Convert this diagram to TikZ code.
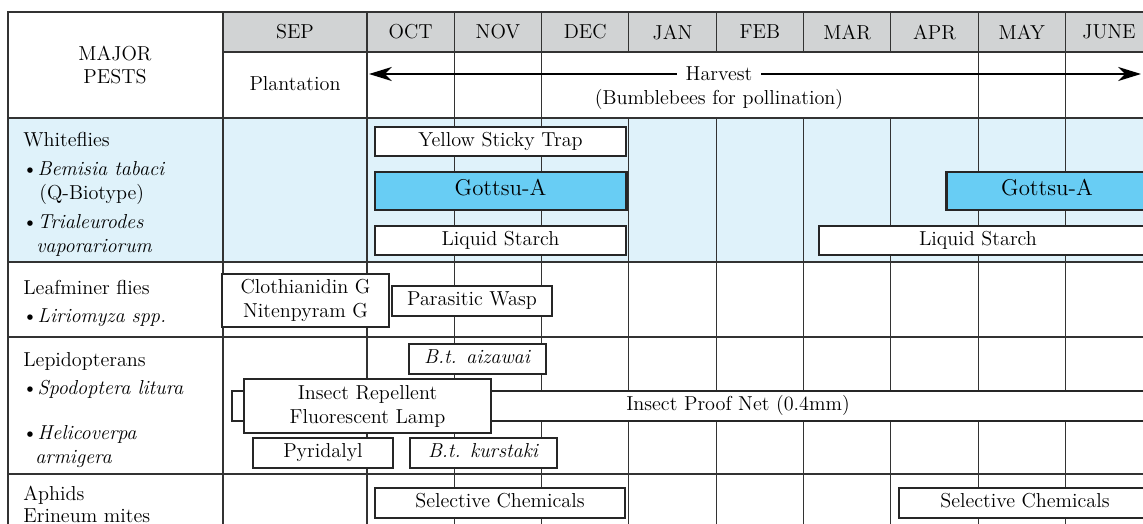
\documentclass[tikz,border=0pt]{standalone}
\usepackage{xcolor}
\usepackage{tikz}
\usetikzlibrary{arrows.meta}

\definecolor{headgrey}{RGB}{209,211,212}
\definecolor{flyblue}{RGB}{223,242,250}
\definecolor{gottsublue}{RGB}{104,205,244}
\newcommand{\chartfont}{\fontsize{11.5}{13.6}\selectfont}
\newcommand{\gottsufont}{\fontsize{13}{15}\selectfont}

\tikzset{
	gridline/.style={draw=black!80, line width=0.6pt},
	ctrlbox/.style={fill=white, draw=black!85, line width=0.6pt},
	gottsubox/.style={fill=gottsublue, draw=black!85, line width=1.7pt},
	boxlabel/.style={text height=1.6ex, text depth=0.35ex, inner sep=0pt},
	pestlabel/.style={anchor=base west, inner sep=0pt},
}

\begin{document}
\begin{tikzpicture}[x=0.02cm, y=-0.02cm, font=\chartfont]

	\useasboundingbox (0,0) rectangle (1143,524);
	\clip (0,0) rectangle (1143,524);

	% shaded rows
	\fill[headgrey] (223,12) rectangle (1160,52);
	\fill[flyblue] (8,118) rectangle (1160,262);

	% grid
	\draw[gridline] (8,560) -- (8,12) -- (1160,12);
	\draw[gridline] (223,52) -- (1160,52);
	\foreach \y in {118,262,337,474}
		\draw[gridline] (8,\y) -- (1160,\y);
	\foreach \x in {223,367}
		\draw[gridline] (\x,12) -- (\x,560);
	\foreach \i in {1,...,9}
		\draw[gridline] ({367+87.3*\i},12) -- ({367+87.3*\i},52);
	\foreach \i in {1,2,7,8,9}
		\draw[gridline] ({367+87.3*\i},52) -- ({367+87.3*\i},118);
	\foreach \i in {1,...,9}
		\draw[gridline] ({367+87.3*\i},118) -- ({367+87.3*\i},560);

	% header
	\node[align=center] (pests) at (115,65) {MAJOR\\PESTS};
	\node (sep) at (295,32) {SEP};
	\foreach \m [count=\i] in {OCT,NOV,DEC,JAN,FEB,MAR,APR,MAY,JUNE}
		\node (month\i) at ({367+87.3*(\i-0.5)},32) {\m};
	\node (plant) at (295,84) {Plantation};

	% harvest period
	\coordinate (hvL) at (369,74);
	\coordinate (hvR) at (1141,74);
	\draw[{Stealth[length=13pt, width=8pt, inset=4pt]}-{Stealth[length=13pt, width=8pt, inset=4pt]}, line width=1.1pt] (hvL) -- (hvR);
	\node[fill=white, inner xsep=5pt, inner ysep=1pt] (harvest) at (719,74) {Harvest};
	\node[anchor=base, inner sep=0pt] (bees) at (719,104) {(Bumblebees for pollination)};

	% pests
	\node[pestlabel] (wf) at (23,146) {Whiteflies};
	\node[pestlabel] (wf1) at (22,175) {\textbullet\textit{Bemisia tabaci}};
	\node[pestlabel] (wf2) at (39,199) {(Q-Biotype)};
	\node[pestlabel] (wf3) at (22,228) {\textbullet\textit{Trialeurodes}};
	\node[pestlabel] (wf4) at (36,252) {\textit{vaporariorum}};

	\node[pestlabel] (lm) at (23,294) {Leafminer flies};
	\node[pestlabel] (lm1) at (22,322) {\textbullet\textit{Liriomyza spp.}};

	\node[pestlabel] (lp) at (23,366) {Lepidopterans};
	\node[pestlabel] (lp1) at (22,394) {\textbullet\textit{Spodoptera litura}};
	\node[pestlabel] (lp2) at (22,439) {\textbullet\textit{Helicoverpa}};
	\node[pestlabel] (lp3) at (35,463) {\textit{armigera}};

	\node[pestlabel] (ap) at (23,500) {Aphids};
	\node[pestlabel] (ap1) at (23,522) {Erineum mites};

	% whiteflies
	\filldraw[ctrlbox] (375,127) rectangle node[boxlabel] (yst) {Yellow Sticky Trap} (626,156);
	\filldraw[gottsubox] (375,172) rectangle node[boxlabel, font=\gottsufont] (gotA) {Gottsu-A} (626,210);
	\filldraw[ctrlbox] (375,226) rectangle node[boxlabel] (lsA) {Liquid Starch} (626,255);
	\filldraw[gottsubox] (946,172) rectangle (1170,210);
	\node[boxlabel, font=\gottsufont] (gotB) at (1047,191) {Gottsu-A};
	\filldraw[ctrlbox] (819,226) rectangle (1170,255);
	\node[boxlabel] (lsB) at (978,240.5) {Liquid Starch};

	% leafminer flies
	\filldraw[ctrlbox] (222,274) rectangle node[align=center, inner sep=0pt] (chem) {Clothianidin G\\Nitenpyram G} (389,327);
	\filldraw[ctrlbox] (392,286) rectangle node[boxlabel] (wasp) {Parasitic Wasp} (552,316);

	% lepidopterans
	\filldraw[ctrlbox] (409,344) rectangle node[boxlabel] (bta) {\textit{B.t. aizawai}} (546,374);
	\filldraw[ctrlbox] (232,391) rectangle (1170,421);
	\node[boxlabel] (net) at (738,406) {Insect Proof Net (0.4mm)};
	\filldraw[ctrlbox] (244,379) rectangle node[align=center, inner sep=0pt] (lamp) {Insect Repellent\\Fluorescent Lamp} (491,433);
	\filldraw[ctrlbox] (253,438) rectangle node[boxlabel] (pyr) {Pyridalyl} (393,468);
	\filldraw[ctrlbox] (410,438) rectangle node[boxlabel] (btk) {\textit{B.t. kurstaki}} (557,468);

	% aphids, mites
	\filldraw[ctrlbox] (375,488) rectangle node[boxlabel] (selA) {Selective Chemicals} (625,518);
	\filldraw[ctrlbox] (899,488) rectangle (1170,518);
	\node[boxlabel] (selB) at (1025,503) {Selective Chemicals};

\end{tikzpicture}
\end{document}
